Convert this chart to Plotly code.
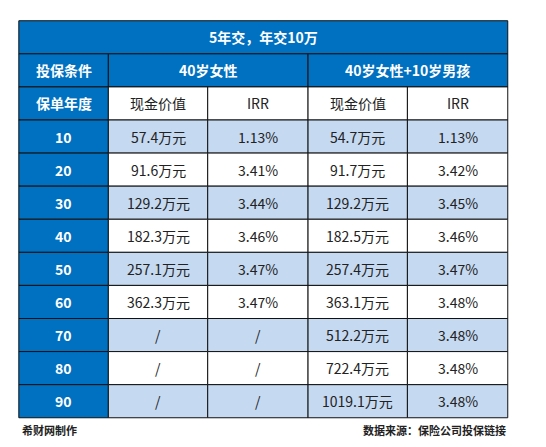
import plotly.graph_objects as go

title = "5年交，年交10万"
groups = ["40岁女性", "40岁女性+10岁男孩"]
sub_headers = ["现金价值", "IRR", "现金价值", "IRR"]
years = ["10", "20", "30", "40", "50", "60", "70", "80", "90"]
cv_female = ["57.4万元", "91.6万元", "129.2万元", "182.3万元", "257.1万元", "362.3万元", "/", "/", "/"]
irr_female = ["1.13%", "3.41%", "3.44%", "3.46%", "3.47%", "3.47%", "/", "/", "/"]
cv_both = ["54.7万元", "91.7万元", "129.2万元", "182.5万元", "257.4万元", "363.1万元", "512.2万元", "722.4万元", "1019.1万元"]
irr_both = ["1.13%", "3.42%", "3.45%", "3.46%", "3.47%", "3.48%", "3.48%", "3.48%", "3.48%"]

BLUE = "#0070C0"
LIGHT = "#C5D9F1"
FONT = "Noto Sans CJK SC"

xs = [11, 102, 203, 305, 406, 508]
top = 13
rh = 33.75
def ry(i):
    return top + i * rh

fig = go.Figure()
shapes, ann = [], []

def cell(x0, x1, y0, y1, fill, text, color, bold=False, size=14):
    shapes.append(dict(type="rect", x0=x0, x1=x1, y0=y0, y1=y1, fillcolor=fill,
                       line=dict(color="#111", width=1), layer="below"))
    ann.append(dict(x=(x0 + x1) / 2, y=(y0 + y1) / 2, text=f"<b>{text}</b>" if bold else text,
                    showarrow=False, font=dict(family=FONT, size=size, color=color)))

cell(xs[0], xs[5], ry(0), ry(1), BLUE, title, "white", True)
cell(xs[0], xs[1], ry(1), ry(2), BLUE, "投保条件", "white", True)
cell(xs[1], xs[3], ry(1), ry(2), BLUE, groups[0], "white", True)
cell(xs[3], xs[5], ry(1), ry(2), BLUE, groups[1], "white", True)
cell(xs[0], xs[1], ry(2), ry(3), BLUE, "保单年度", "white", True)
for j, h in enumerate(sub_headers):
    cell(xs[j + 1], xs[j + 2], ry(2), ry(3), "white", h, "#222")
for i, yr in enumerate(years):
    fill = LIGHT if i % 2 == 0 else "white"
    y0, y1 = ry(3 + i), ry(4 + i)
    cell(xs[0], xs[1], y0, y1, BLUE, yr, "white", True)
    for j, v in enumerate([cv_female[i], irr_female[i], cv_both[i], irr_both[i]]):
        cell(xs[j + 1], xs[j + 2], y0, y1, fill, v, "#222")

ann.append(dict(x=12, y=431, text="<b>希财网制作</b>", showarrow=False, xanchor="left",
                font=dict(family=FONT, size=11, color="#222")))
ann.append(dict(x=508, y=431, text="<b>数据来源：保险公司投保链接</b>", showarrow=False, xanchor="right",
                font=dict(family=FONT, size=11, color="#222")))

fig.add_trace(go.Scatter(x=[0, 546], y=[0, 447], mode="markers", marker=dict(opacity=0), hoverinfo="skip"))
fig.update_layout(width=546, height=447, margin=dict(l=0, r=0, t=0, b=0), showlegend=False,
                  plot_bgcolor="white", paper_bgcolor="white", shapes=shapes, annotations=ann)
fig.update_xaxes(range=[0, 555], visible=False, fixedrange=True)
fig.update_yaxes(range=[456, 0], visible=False, fixedrange=True)
fig.write_html("out.html")
